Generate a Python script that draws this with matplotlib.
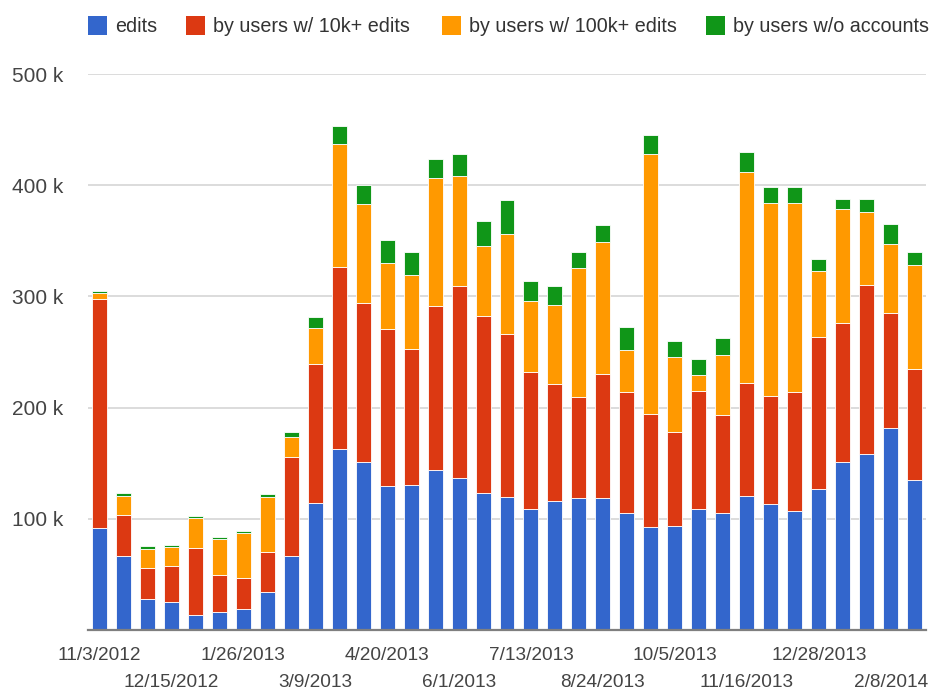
import matplotlib
matplotlib.use("Agg")
import matplotlib.pyplot as plt
from matplotlib.patches import Rectangle
import numpy as np
import pandas as pd

plt.rcParams['font.family'] = ['Liberation Sans', 'DejaVu Sans']

# ---- data (thousands of edits) ----
dates = pd.date_range('2012-11-03', periods=35, freq='14D')
date_labels = [f"{d.month}/{d.day}/{d.year}" for d in dates]

edits = [91.3, 66.5, 27.6, 25.4, 13.5, 16.4, 19.1, 34.4, 66.8, 114.4,
         162.4, 151.2, 129.4, 130.3, 143.8, 136.3, 122.8, 119.8, 108.4, 115.9,
         118.9, 118.9, 105.4, 92.3, 93.4, 108.4, 105.4, 120.4, 112.9, 106.9,
         126.4, 151.2, 158.1, 181.8, 134.8]
users_10k = [206.5, 36.8, 27.8, 32.1, 59.9, 33.3, 27.9, 36.0, 88.4, 125.2,
             164.0, 142.9, 141.0, 122.8, 147.3, 172.8, 159.6, 146.8, 123.7, 104.9,
             90.2, 111.7, 108.2, 101.8, 84.8, 106.3, 87.8, 101.8, 97.6, 106.7,
             137.1, 125.3, 151.9, 103.3, 100.3]
users_100k = [5.3, 17.4, 17.6, 16.8, 27.5, 32.1, 40.2, 49.4, 18.5, 32.4,
              110.3, 89.3, 60.0, 65.9, 115.3, 98.8, 62.6, 89.8, 63.5, 71.8,
              116.8, 118.3, 38.0, 234.2, 67.4, 15.0, 53.9, 189.6, 173.8, 170.7,
              59.3, 101.8, 65.8, 62.3, 93.5]
no_account = [2.1, 2.7, 2.5, 1.8, 1.5, 2.0, 1.5, 2.7, 4.8, 9.5,
              16.1, 16.4, 20.0, 20.9, 16.8, 19.8, 22.7, 29.9, 18.0, 16.7,
              14.0, 15.6, 20.9, 16.4, 14.1, 13.8, 15.5, 17.9, 14.0, 14.0,
              11.2, 9.6, 12.1, 17.4, 11.3]

series_names = ['edits', 'by users w/ 10k+ edits', 'by users w/ 100k+ edits',
                'by users w/o accounts']
series_values = [edits, users_10k, users_100k, no_account]
colors = ['#3366CC', '#DC3912', '#FF9900', '#109618']
y_ticks = [100, 200, 300, 400, 500]

W, H = 931, 689
fig = plt.figure(figsize=(W / 100, H / 100), dpi=100)
fig.patch.set_facecolor('white')

def fx(px):
    return px / W

def fy(py):
    return 1 - py / H

ax = fig.add_axes([fx(88), fy(630), fx(926) - fx(88), fy(74) - fy(630)])
x = np.arange(len(edits))
bottom = np.zeros(len(edits))
for vals, c in zip(series_values, colors):
    v = np.array(vals)
    ax.bar(x, v, bottom=bottom, width=0.625, color=c, edgecolor='#ffffff',
           linewidth=0.6, zorder=3)
    bottom += v

ax.set_xlim(-0.46, len(edits) - 1 + 0.46)
ax.set_ylim(0, 500)
for s in ['top', 'right', 'left']:
    ax.spines[s].set_visible(False)
ax.spines['bottom'].set_color('#7f7f7f')
ax.spines['bottom'].set_linewidth(1.6)
ax.spines['bottom'].set_zorder(4)

ax.set_yticks(y_ticks)
ax.set_yticklabels([f"{t} k" for t in y_ticks])
ax.yaxis.grid(True, color='#dcdcdc', linewidth=1.4, zorder=0)
ax.tick_params(axis='y', length=0, pad=18, labelsize=15, labelcolor='#444444')

# two staggered rows of date labels
row1 = list(range(0, len(edits), 6))
row2 = list(range(3, len(edits), 6))
ax.set_xticks(row1)
ax.set_xticklabels([date_labels[i] for i in row1])
ax.set_xticks(row2, minor=True)
ax.set_xticklabels([date_labels[i] for i in row2], minor=True)
ax.tick_params(axis='x', which='major', length=0, pad=12, labelsize=13.7,
               labelcolor='#444444')
ax.tick_params(axis='x', which='minor', length=0, pad=31.5, labelsize=13.7,
               labelcolor='#444444')

# legend
leg_sq = [88, 186, 442, 706]
for px, name, c in zip(leg_sq, series_names, colors):
    fig.add_artist(Rectangle((fx(px), fy(35)), fx(19), fy(16) - fy(35),
                             transform=fig.transFigure, facecolor=c,
                             edgecolor='none'))
    fig.text(fx(px + 27), fy(26.5), name, ha='left', va='center',
             fontsize=14.2, color='#333333')

fig.savefig('out.png', dpi=100, facecolor='white')
